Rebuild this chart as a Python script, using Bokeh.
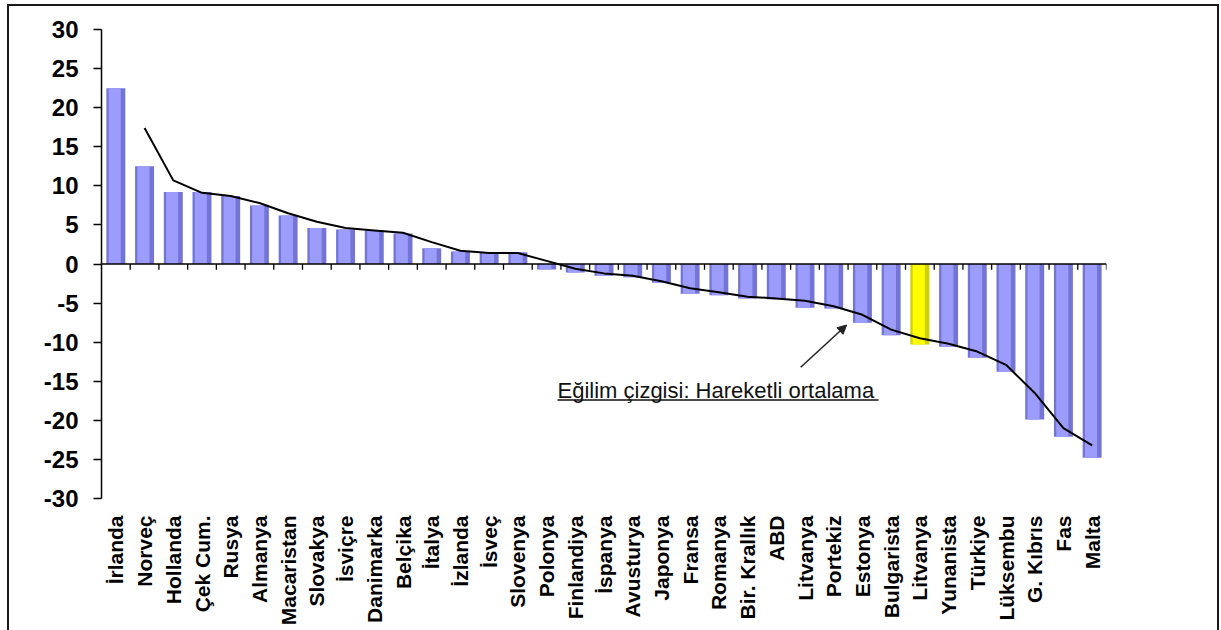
import math
from bokeh.plotting import figure
from bokeh.models import (ColumnDataSource, FixedTicker, Label, Arrow, NormalHead, Range1d)
from bokeh.embed import file_html
from bokeh.resources import INLINE

countries = ["İrlanda", "Norveç", "Hollanda", "Çek Cum.", "Rusya", "Almanya", "Macaristan",
             "Slovakya", "İsviçre", "Danimarka", "Belçika", "İtalya", "İzlanda", "İsveç",
             "Slovenya", "Polonya", "Finlandiya", "İspanya", "Avusturya", "Japonya", "Fransa",
             "Romanya", "Bir. Krallık", "ABD", "Litvanya", "Portekiz", "Estonya", "Bulgarista",
             "Litvanya", "Yunanista", "Türkiye", "Lüksembu", "G. Kıbrıs", "Fas", "Malta"]
values = [22.5, 12.5, 9.2, 9.2, 8.7, 7.5, 6.2, 4.6, 4.4, 4.3, 3.9, 2.0, 1.6, 1.5, 1.5,
          -0.7, -1.1, -1.5, -1.7, -2.4, -3.8, -4.0, -4.4, -4.5, -5.6, -5.7, -7.5, -9.1,
          -10.3, -10.6, -12.0, -13.8, -19.9, -22.1, -24.8]
# moving average (starts at the 2nd country)
moving_avg = [17.4, 10.7, 9.1, 8.7, 7.8, 6.5, 5.4, 4.6, 4.3, 4.0, 2.8, 1.7, 1.4, 1.4, 0.4,
              -0.6, -1.2, -1.5, -2.2, -3.1, -3.6, -4.2, -4.4, -4.7, -5.4, -6.5, -8.4, -9.5,
              -10.2, -11.2, -12.9, -16.5, -21.0, -23.2]
highlight_index = 28
y_ticks = [-30, -25, -20, -15, -10, -5, 0, 5, 10, 15, 20, 25, 30]
note_text = "Eğilim çizgisi: Hareketli ortalama"

n = len(countries)
idx = list(range(n))
outer_col = ["#d0d000" if i == highlight_index else "#7474d6" for i in idx]
inner_col = ["#ffff00" if i == highlight_index else "#9c9cfc" for i in idx]
src = ColumnDataSource(dict(x=idx, top=values, outer=outer_col, inner=inner_col,
                            xi=[i - 0.04 for i in idx]))

p = figure(width=1212, height=626, output_backend="svg", toolbar_location=None,
           x_range=Range1d(-0.5, n - 0.5), y_range=Range1d(-30, 30),
           min_border_left=94, min_border_right=113, min_border_top=25, min_border_bottom=132)
p.outline_line_color = None
p.xgrid.visible = False
p.ygrid.visible = False
p.background_fill_color = "white"
p.border_fill_color = None
p.styles = {"margin-left": "7px", "margin-top": "4px", "background-color": "white",
            "box-shadow": "inset 2px 2px 0 #1a1a1a, inset -2px 0 0 #1a1a1a"}

p.vbar(x="x", top="top", bottom=0, width=0.66, source=src, fill_color="outer", line_color=None)
p.vbar(x="xi", top="top", bottom=0, width=0.42, source=src, fill_color="inner", line_color=None)

# zero axis line with tick marks at category boundaries
p.segment(x0=[-0.5], y0=[0], x1=[n - 0.5], y1=[0], line_color="black", line_width=1.5)
b = [i + 0.5 for i in idx]
p.segment(x0=b, y0=[0] * n, x1=b, y1=[-0.75] * n, line_color="black", line_width=1.3)

# moving average line
p.line(x=idx[1:], y=moving_avg, line_color="black", line_width=2)

# axes
ya = p.yaxis[0]
ya.ticker = FixedTicker(ticks=y_ticks)
ya.major_label_overrides = {t: str(t) for t in y_ticks}
ya.minor_tick_line_color = None
ya.major_tick_out = 8
ya.major_tick_in = 0
ya.axis_line_width = 1.5
ya.major_tick_line_width = 1.5
ya.axis_line_color = "black"
ya.major_tick_line_color = "black"
ya.major_label_text_font = "Liberation Sans"
ya.major_label_text_font_style = "bold"
ya.major_label_text_font_size = "24px"
ya.major_label_text_color = "black"
ya.major_label_standoff = 15

xa = p.xaxis[0]
xa.ticker = FixedTicker(ticks=idx)
xa.major_label_overrides = {i: c for i, c in enumerate(countries)}
xa.major_label_orientation = math.pi / 2
xa.axis_line_color = None
xa.major_tick_line_color = None
xa.minor_tick_line_color = None
xa.major_label_text_font = "Liberation Sans"
xa.major_label_text_font_style = "bold"
xa.major_label_text_font_size = "21px"
xa.major_label_text_color = "black"
xa.major_label_standoff = 11

# annotation
p.add_layout(Label(x=15.38, y=-16.2, text=note_text, text_font="Liberation Sans",
                   text_font_size="22px", text_color="#111111", text_baseline="alphabetic"))
p.segment(x0=[15.38], y0=[-17.4], x1=[26.56], y1=[-17.4], line_color="#111111", line_width=1.5)
p.add_layout(Arrow(end=NormalHead(size=9, fill_color="#222222", line_color="#222222"),
                   x_start=23.85, y_start=-13.2, x_end=25.45, y_end=-7.8,
                   line_color="#222222", line_width=1.5))

open("out.html", "w").write(file_html(p, INLINE))
